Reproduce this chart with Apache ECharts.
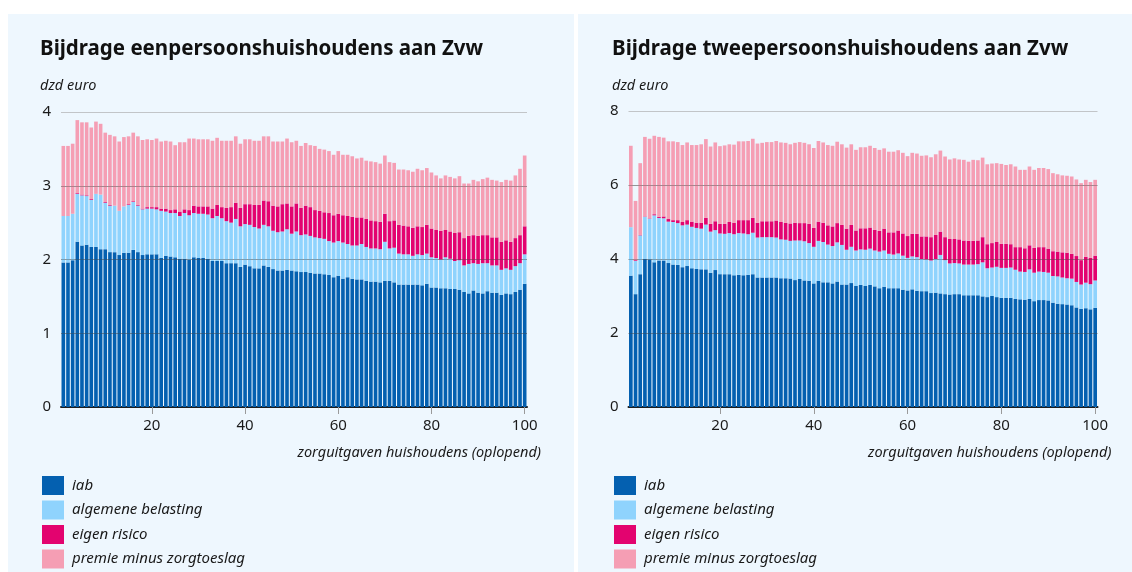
<!DOCTYPE html>
<html><head><meta charset="utf-8">
<script src="https://cdn.jsdelivr.net/npm/echarts@6/dist/echarts.min.js"></script>
<style>html,body{margin:0;padding:0;background:#fff}#c{width:1132px;height:572px}</style>
</head><body><div id="c"></div>
<script>
const categories = []; for (let i = 1; i <= 100; i++) categories.push(String(i));
const seriesNames = ['iab', 'algemene belasting', 'eigen risico', 'premie minus zorgtoeslag'];
const titles = ['Bijdrage eenpersoonshuishoudens aan Zvw', 'Bijdrage tweepersoonshuishoudens aan Zvw'];
const unitLabel = 'dzd euro';
const xAxisName = 'zorguitgaven huishoudens (oplopend)';
const xTickLabels = ['20', '40', '60', '80', '100'];

// Eenpersoonshuishoudens
const een_iab = [1.96,1.96,1.99,2.24,2.19,2.20,2.17,2.17,2.14,2.14,2.10,2.10,2.06,2.09,2.09,2.13,2.10,2.06,2.07,2.07,2.07,2.02,2.05,2.04,2.03,2.01,2.01,2.00,2.03,2.02,2.02,2.01,1.98,1.98,1.98,1.95,1.95,1.95,1.90,1.93,1.91,1.88,1.88,1.92,1.90,1.87,1.85,1.85,1.86,1.85,1.84,1.83,1.83,1.82,1.81,1.81,1.80,1.79,1.76,1.78,1.74,1.76,1.74,1.73,1.73,1.71,1.70,1.70,1.69,1.71,1.71,1.69,1.66,1.66,1.66,1.66,1.66,1.65,1.67,1.62,1.62,1.61,1.61,1.60,1.60,1.59,1.56,1.54,1.58,1.55,1.54,1.57,1.55,1.55,1.52,1.54,1.53,1.56,1.59,1.67];
const een_alg = [0.63,0.63,0.63,0.65,0.68,0.66,0.64,0.72,0.74,0.63,0.63,0.63,0.60,0.63,0.65,0.65,0.63,0.62,0.62,0.62,0.61,0.64,0.60,0.59,0.60,0.58,0.62,0.60,0.60,0.60,0.60,0.60,0.58,0.61,0.58,0.57,0.55,0.60,0.55,0.55,0.56,0.56,0.54,0.55,0.55,0.52,0.52,0.53,0.55,0.50,0.54,0.50,0.51,0.50,0.49,0.48,0.48,0.46,0.47,0.47,0.49,0.45,0.45,0.46,0.48,0.46,0.45,0.45,0.45,0.53,0.44,0.47,0.42,0.41,0.41,0.39,0.41,0.41,0.41,0.41,0.40,0.39,0.42,0.41,0.38,0.40,0.36,0.40,0.37,0.39,0.41,0.38,0.37,0.37,0.34,0.34,0.33,0.35,0.36,0.40];
const een_eigen = [0,0,0,0.01,0.01,0.01,0.01,0,0,0.01,0.01,0,0,0,0.01,0.01,0.01,0.01,0.02,0.02,0.03,0.03,0.04,0.04,0.05,0.06,0.05,0.07,0.10,0.10,0.10,0.11,0.13,0.15,0.15,0.18,0.21,0.22,0.25,0.27,0.28,0.30,0.32,0.33,0.34,0.34,0.35,0.37,0.35,0.37,0.38,0.37,0.39,0.39,0.37,0.37,0.36,0.38,0.37,0.37,0.37,0.38,0.39,0.38,0.36,0.38,0.38,0.37,0.37,0.38,0.37,0.37,0.39,0.39,0.38,0.38,0.38,0.38,0.39,0.39,0.38,0.39,0.37,0.37,0.38,0.38,0.37,0.38,0.38,0.38,0.38,0.38,0.38,0.38,0.38,0.38,0.38,0.38,0.38,0.38];
const een_premie = [0.95,0.95,0.95,0.99,0.98,0.99,0.97,0.98,0.96,0.94,0.95,0.94,0.94,0.94,0.92,0.93,0.93,0.93,0.92,0.91,0.93,0.91,0.92,0.93,0.87,0.94,0.91,0.97,0.91,0.91,0.91,0.91,0.92,0.91,0.90,0.91,0.90,0.90,0.87,0.88,0.88,0.87,0.87,0.87,0.88,0.87,0.88,0.85,0.88,0.87,0.85,0.84,0.85,0.84,0.87,0.84,0.85,0.84,0.82,0.85,0.82,0.83,0.82,0.80,0.81,0.79,0.80,0.80,0.79,0.79,0.80,0.78,0.75,0.76,0.76,0.76,0.78,0.77,0.77,0.76,0.74,0.71,0.74,0.74,0.74,0.76,0.74,0.71,0.75,0.74,0.76,0.78,0.78,0.77,0.81,0.82,0.83,0.85,0.90,0.96];

// Tweepersoonshuishoudens
const twee_iab = [3.55,3.05,3.59,4.00,3.99,3.91,3.96,3.96,3.89,3.85,3.84,3.78,3.81,3.75,3.73,3.72,3.72,3.63,3.70,3.59,3.59,3.59,3.56,3.57,3.56,3.57,3.59,3.50,3.50,3.50,3.50,3.50,3.48,3.48,3.47,3.43,3.46,3.42,3.41,3.34,3.41,3.37,3.37,3.34,3.39,3.31,3.31,3.35,3.27,3.30,3.27,3.30,3.26,3.21,3.25,3.21,3.21,3.21,3.17,3.15,3.18,3.14,3.13,3.13,3.08,3.09,3.07,3.05,3.04,3.05,3.05,3.02,3.02,3.02,3.02,2.99,2.97,3.00,2.97,2.95,2.95,2.95,2.92,2.91,2.90,2.92,2.86,2.89,2.89,2.88,2.82,2.79,2.78,2.77,2.75,2.69,2.65,2.67,2.64,2.68];
const twee_alg = [1.31,0.90,1.05,1.14,1.10,1.27,1.15,1.14,1.12,1.15,1.13,1.13,1.12,1.12,1.11,1.10,1.21,1.11,1.08,1.10,1.09,1.11,1.11,1.13,1.13,1.10,1.12,1.08,1.09,1.09,1.09,1.08,1.05,1.04,1.02,1.07,1.04,1.06,1.02,0.99,1.08,1.09,1.02,1.01,1.06,1.07,0.94,0.98,0.96,0.96,0.98,0.98,0.97,0.99,0.98,0.93,0.91,0.94,0.92,0.88,0.89,0.91,0.87,0.86,0.88,0.91,1.04,0.92,0.84,0.84,0.83,0.83,0.83,0.83,0.84,0.92,0.78,0.77,0.82,0.81,0.81,0.82,0.79,0.75,0.75,0.80,0.77,0.77,0.76,0.75,0.72,0.74,0.72,0.71,0.72,0.69,0.66,0.69,0.68,0.74];
const twee_eigen = [0,0.02,0.01,0.01,0.01,0.03,0.03,0.05,0.07,0.05,0.08,0.09,0.12,0.14,0.14,0.16,0.18,0.21,0.24,0.26,0.27,0.30,0.31,0.35,0.36,0.38,0.40,0.40,0.43,0.43,0.43,0.46,0.47,0.46,0.47,0.48,0.47,0.49,0.52,0.51,0.52,0.52,0.52,0.53,0.52,0.54,0.57,0.59,0.54,0.57,0.58,0.57,0.56,0.56,0.59,0.58,0.60,0.62,0.60,0.59,0.61,0.63,0.61,0.62,0.63,0.65,0.63,0.62,0.66,0.65,0.65,0.65,0.64,0.64,0.64,0.68,0.65,0.66,0.67,0.65,0.65,0.63,0.61,0.66,0.64,0.65,0.67,0.66,0.67,0.65,0.67,0.67,0.68,0.69,0.67,0.70,0.66,0.70,0.71,0.67];
const twee_premie = [2.20,1.60,1.94,2.15,2.15,2.12,2.16,2.13,2.10,2.13,2.11,2.08,2.10,2.07,2.10,2.12,2.13,2.09,2.13,2.10,2.12,2.10,2.11,2.13,2.13,2.14,2.14,2.14,2.12,2.14,2.14,2.15,2.15,2.16,2.14,2.16,2.19,2.17,2.15,2.16,2.18,2.17,2.17,2.18,2.20,2.18,2.19,2.18,2.18,2.19,2.19,2.21,2.21,2.19,2.17,2.18,2.18,2.17,2.18,2.16,2.19,2.17,2.18,2.19,2.16,2.18,2.19,2.18,2.15,2.18,2.16,2.18,2.14,2.19,2.17,2.15,2.16,2.15,2.13,2.16,2.13,2.16,2.18,2.09,2.12,2.13,2.11,2.14,2.14,2.15,2.11,2.09,2.08,2.08,2.09,2.07,2.08,2.08,2.05,2.05];

const yTicksL = [1, 2, 3];
const yTicksR = [2, 4, 6];

const COLORS = ['#0460B0', '#8FD3FD', '#E3036F', '#F59EB4'];
const FONT = '"Noto Sans", "Open Sans", sans-serif';
const TXT = '#1a1a1a';

const chart = echarts.init(document.getElementById('c'), null, {renderer: 'canvas'});

const grids = [
  {left: 61, top: 112, width: 466, height: 295},
  {left: 628.5, top: 111, width: 469, height: 296}
];
const panelX = [40, 612];

function xAxis(idx) {
  return {
    type: 'category', gridIndex: idx, data: categories,
    axisLine: {show: true, lineStyle: {color: '#1e1e1e', width: 2}},
    axisTick: {show: true, alignWithLabel: true, length: 7, lineStyle: {color: '#9a9a9a'},
      interval: (i, v) => xTickLabels.indexOf(v) >= 0},
    axisLabel: {interval: (i, v) => xTickLabels.indexOf(v) >= 0, color: TXT, fontFamily: FONT, fontSize: 15, margin: 11},
    name: xAxisName, nameLocation: 'end', nameGap: 14,
    nameTextStyle: {fontFamily: FONT, fontStyle: 'italic', fontSize: 14.5, color: TXT, align: 'right', verticalAlign: 'top', padding: [38, 0, 0, 0]}
  };
}
function yAxis(idx, max, interval) {
  return {
    type: 'value', gridIndex: idx, min: 0, max: max, interval: interval,
    axisLine: {show: false}, axisTick: {show: false},
    axisLabel: {color: TXT, fontFamily: FONT, fontSize: 15, margin: 10},
    splitLine: {show: true, lineStyle: {color: '#c2c5c8', width: 1}}
  };
}

const data = [
  [een_iab, een_alg, een_eigen, een_premie],
  [twee_iab, twee_alg, twee_eigen, twee_premie]
];
const series = [];
[0, 1].forEach(g => {
  seriesNames.forEach((n, k) => {
    const s = {
      name: n, type: 'bar', stack: 'st' + g, xAxisIndex: g, yAxisIndex: g,
      data: data[g][k], barCategoryGap: '22%',
      itemStyle: {color: COLORS[k]}, emphasis: {disabled: true}, animation: false
    };
    if (k === 3) {
      s.markLine = {
        silent: true, symbol: 'none', animation: false,
        label: {show: false},
        lineStyle: {color: 'rgba(70,70,70,0.38)', type: 'solid', width: 1},
        data: (g === 0 ? yTicksL : yTicksR).map(v => ({yAxis: v}))
      };
    }
    series.push(s);
  });
});

const graphics = [
  {type: 'rect', shape: {x: 8, y: 14, width: 566, height: 558}, style: {fill: '#EEF7FE'}, z: -10},
  {type: 'rect', shape: {x: 578, y: 14, width: 554, height: 558}, style: {fill: '#EEF7FE'}, z: -10}
];
[0, 1].forEach(g => {
  graphics.push({type: 'text', style: {text: titles[g], x: panelX[g], y: 49, textVerticalAlign: 'middle',
    font: 'bold 20.5px ' + FONT, fill: '#111'}});
  graphics.push({type: 'text', style: {text: unitLabel, x: panelX[g], y: 86, textVerticalAlign: 'middle',
    font: 'italic 14.5px ' + FONT, fill: TXT}});
});

const legends = [0, 1].map(g => ({
  orient: 'vertical', left: panelX[g] + 2, top: 476, padding: 0, height: 96,
  itemWidth: 22, itemHeight: 19, itemGap: 5.5,
  icon: 'rect', selectedMode: false, data: seriesNames,
  textStyle: {fontFamily: FONT, fontStyle: 'italic', fontSize: 15, color: TXT, padding: [0, 0, 0, 3]}
}));

chart.setOption({
  backgroundColor: '#ffffff',
  animation: false,
  grid: grids,
  xAxis: [xAxis(0), xAxis(1)],
  yAxis: [yAxis(0, 4, 1), yAxis(1, 8, 2)],
  legend: legends,
  series: series,
  graphic: graphics
});
</script></body></html>
